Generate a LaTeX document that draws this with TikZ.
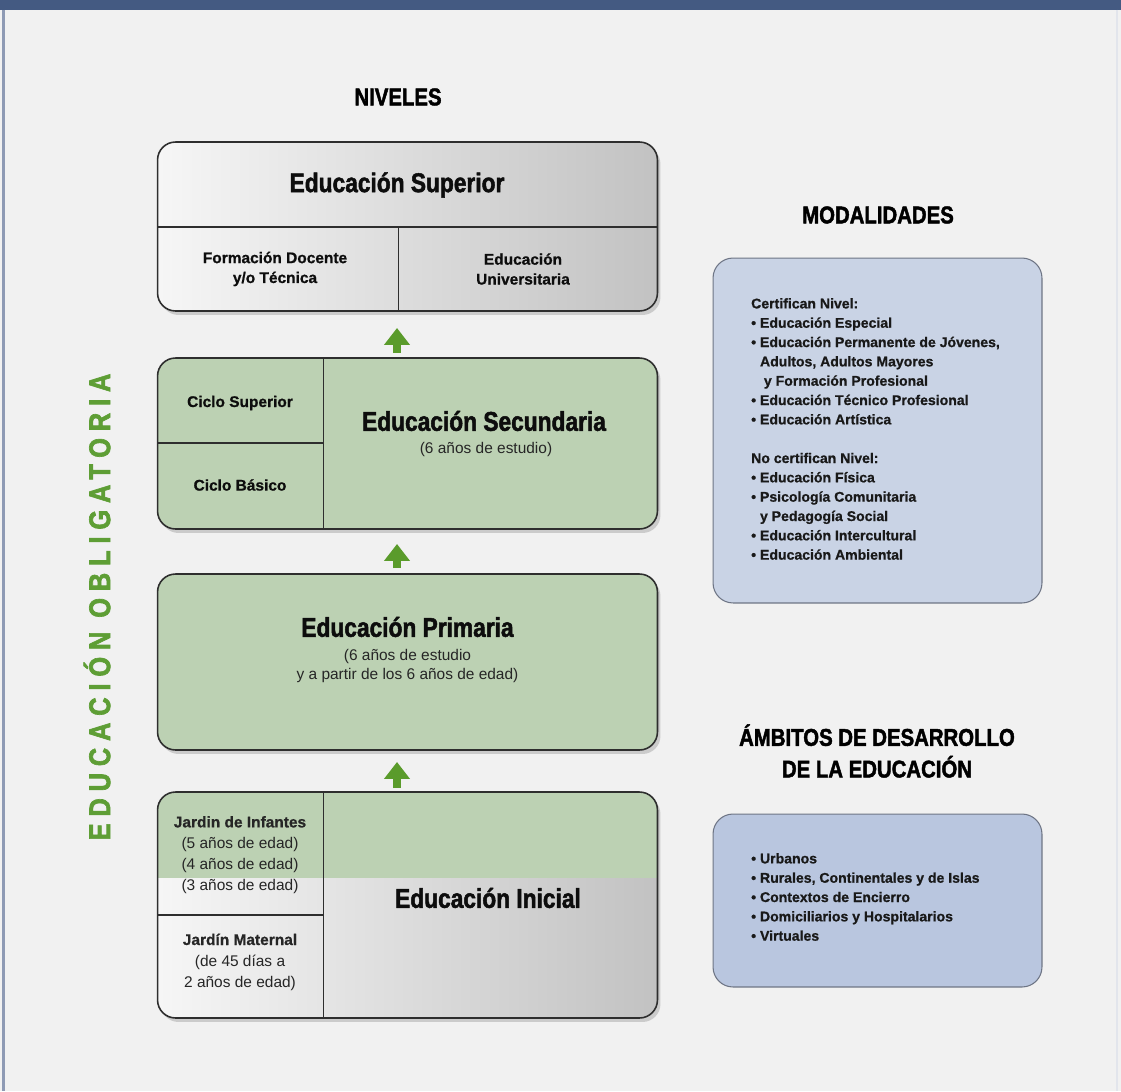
\documentclass[tikz,border=0pt]{standalone}
\usepackage{fontspec}
\setmainfont{Liberation Sans}
\newfontfamily\condfont{Liberation Sans}[FakeStretch=0.84,FakeBold=1.8]
\newfontfamily\negrita{Liberation Sans}[FakeBold=0.8]
\newfontfamily\obligfont{Liberation Sans}[FakeStretch=0.85,FakeBold=2.2,LetterSpace=23]
\usepackage{xcolor}
\usepackage{tikz}
\usetikzlibrary{arrows.meta,shadows}
\definecolor{barc}{HTML}{445A82}
\definecolor{pagebg}{HTML}{F1F1F1}
\definecolor{framec}{HTML}{8E9AB4}
\definecolor{framer}{HTML}{E2E5EC}
\definecolor{edgec}{HTML}{2E2E2E}
\definecolor{verdec}{HTML}{BCD1B3}
\definecolor{grisa}{HTML}{F6F6F6}
\definecolor{grisb}{HTML}{C2C2C2}
\definecolor{flechac}{HTML}{5A9B2B}
\definecolor{obligc}{HTML}{5E9E35}
\definecolor{modc}{HTML}{C9D3E5}
\definecolor{ambc}{HTML}{B9C6DF}
\definecolor{azulborde}{HTML}{6E7585}
\tikzset{
  nivel/.style={draw=edgec,line width=0.9pt,rounded corners=0.36cm,minimum width=10cm,outer sep=0pt,inner sep=0pt,
    drop shadow={shadow xshift=0.06cm,shadow yshift=-0.08cm,fill=black!35}},
  gris/.style={nivel,left color=grisa,right color=grisb},
  verde/.style={nivel,fill=verdec},
  linea/.style={draw=edgec,line width=0.9pt},
  subir/.style={-{Triangle[width=0.5cm,length=0.34cm]},line width=0.16cm,flechac},
  tit/.style={font=\condfont\bfseries\fontsize{15.4}{18}\selectfont,text=black!95},
  sub/.style={font=\fontsize{8.8}{11}\selectfont,align=center,text=black!85},
  chico/.style={font=\negrita\bfseries\fontsize{8.8}{11.3}\selectfont,align=center,text=black!95},
  seccion/.style={font=\condfont\bfseries\fontsize{13.8}{18}\selectfont,align=center,text=black},
  cuadro/.style={draw=azulborde,line width=0.6pt,rounded corners=0.4cm,minimum width=6.58cm,outer sep=0pt},
  lista/.style={font=\negrita\bfseries\fontsize{8}{11}\selectfont,align=left,anchor=west,text=black!90}
}
\begin{document}
\begin{tikzpicture}[x=0.02cm,y=-0.02cm]
\useasboundingbox (0,0) rectangle (1121,1091);
\fill[pagebg] (0,0) rectangle (1121,1091);
\fill[barc] (0,0) rectangle (1121,10);
\draw[framec,line width=1.2pt] (3.5,10) -- (3.5,1091);
\draw[framer,line width=1pt] (1117,10) -- (1117,1091);

\node[seccion] (niv) at (398,97) {NIVELES};
\node[seccion] (mod) at (878,215) {MODALIDADES};
\node[seccion] (amb) at (877,751) {ÁMBITOS DE DESARROLLO\\DE LA EDUCACIÓN};

\node[gris,minimum height=3.38cm] (sup) at (407.5,226.5) {};
\node[verde,minimum height=3.42cm] (sec) at (407.5,443.5) {};
\node[verde,minimum height=3.52cm] (prim) at (407.5,662) {};
\node[gris,minimum height=4.52cm,path picture={
  \fill[verdec,sharp corners] (path picture bounding box.north west) rectangle ([yshift=-1.72cm]path picture bounding box.north east);}] (ini) at (407.5,905) {};

\draw[linea] ([yshift=-1.7cm]sup.north west) -- ([yshift=-1.7cm]sup.north east);
\draw[linea] ([xshift=4.82cm,yshift=-1.7cm]sup.north west) -- ([xshift=4.82cm]sup.south west);
\draw[linea] ([xshift=3.32cm]sec.north west) -- ([xshift=3.32cm]sec.south west);
\draw[linea] ([yshift=-1.7cm]sec.north west) -- ([xshift=3.32cm,yshift=-1.7cm]sec.north west);
\draw[linea] ([xshift=3.32cm]ini.north west) -- ([xshift=3.32cm]ini.south west);
\draw[linea] ([yshift=-2.46cm]ini.north west) -- ([xshift=3.32cm,yshift=-2.46cm]ini.north west);

\draw[subir] ([xshift=-0.21cm,yshift=0.1cm]sec.north) -- ([xshift=-0.21cm,yshift=-0.34cm]sup.south);
\draw[subir] ([xshift=-0.21cm,yshift=0.12cm]prim.north) -- ([xshift=-0.21cm,yshift=-0.3cm]sec.south);
\draw[subir] ([xshift=-0.21cm,yshift=0.08cm]ini.north) -- ([xshift=-0.21cm,yshift=-0.24cm]prim.south);

\node[tit] (supt) at (397,185) {Educación Superior};
\node[chico] (form) at (275,269) {Formación Docente\\y/o Técnica};
\node[chico] (univ) at (523,269) {Educación\\Universitaria};

\node[chico] (csup) at (240,403) {Ciclo Superior};
\node[chico] (cbas) at (240,485) {Ciclo Básico};
\node[tit] (sect) at (484,421) {Educación Secundaria};
\node[sub] (secs) at (486,449) {(6 años de estudio)};

\node[tit] (primt) at (407.5,627) {Educación Primaria};
\node[sub] (prims) at (407.5,666) {(6 años de estudio\\y a partir de los 6 años de edad)};

\node[sub,font=\fontsize{8.8}{12}\selectfont] (jinf) at (240,855) {{\negrita\bfseries Jardin de Infantes}\\(5 años de edad)\\(4 años de edad)\\(3 años de edad)};
\node[sub,font=\fontsize{8.8}{12}\selectfont] (jmat) at (240,962) {{\negrita\bfseries Jardín Maternal}\\(de 45 días a\\2 años de edad)};
\node[tit] (init) at (488,898) {Educación Inicial};

\node[cuadro,fill=modc,minimum height=6.9cm] (modbox) at (877.5,430.5) {};
\node[lista] (modlist) at (745,429) {Certifican Nivel:\\
\textbullet\ Educación Especial\\
\textbullet\ Educación Permanente de Jóvenes,\\
\phantom{\textbullet\ }Adultos, Adultos Mayores\\
\phantom{\textbullet\ } y Formación Profesional\\
\textbullet\ Educación Técnico Profesional\\
\textbullet\ Educación Artística\\[11pt]
No certifican Nivel:\\
\textbullet\ Educación Física\\
\textbullet\ Psicología Comunitaria\\
\phantom{\textbullet\ }y Pedagogía Social\\
\textbullet\ Educación Intercultural\\
\textbullet\ Educación Ambiental};

\node[cuadro,fill=ambc,minimum height=3.46cm] (ambbox) at (877.5,900.5) {};
\node[lista] (amblist) at (745,897) {\textbullet\ Urbanos\\
\textbullet\ Rurales, Continentales y de Islas\\
\textbullet\ Contextos de Encierro\\
\textbullet\ Domiciliarios y Hospitalarios\\
\textbullet\ Virtuales};

\node[rotate=90,text=obligc,font=\obligfont\bfseries\fontsize{17}{17}\selectfont] (oblig) at (97,607) {EDUCACIÓN OBLIGATORIA};
\end{tikzpicture}
\end{document}
